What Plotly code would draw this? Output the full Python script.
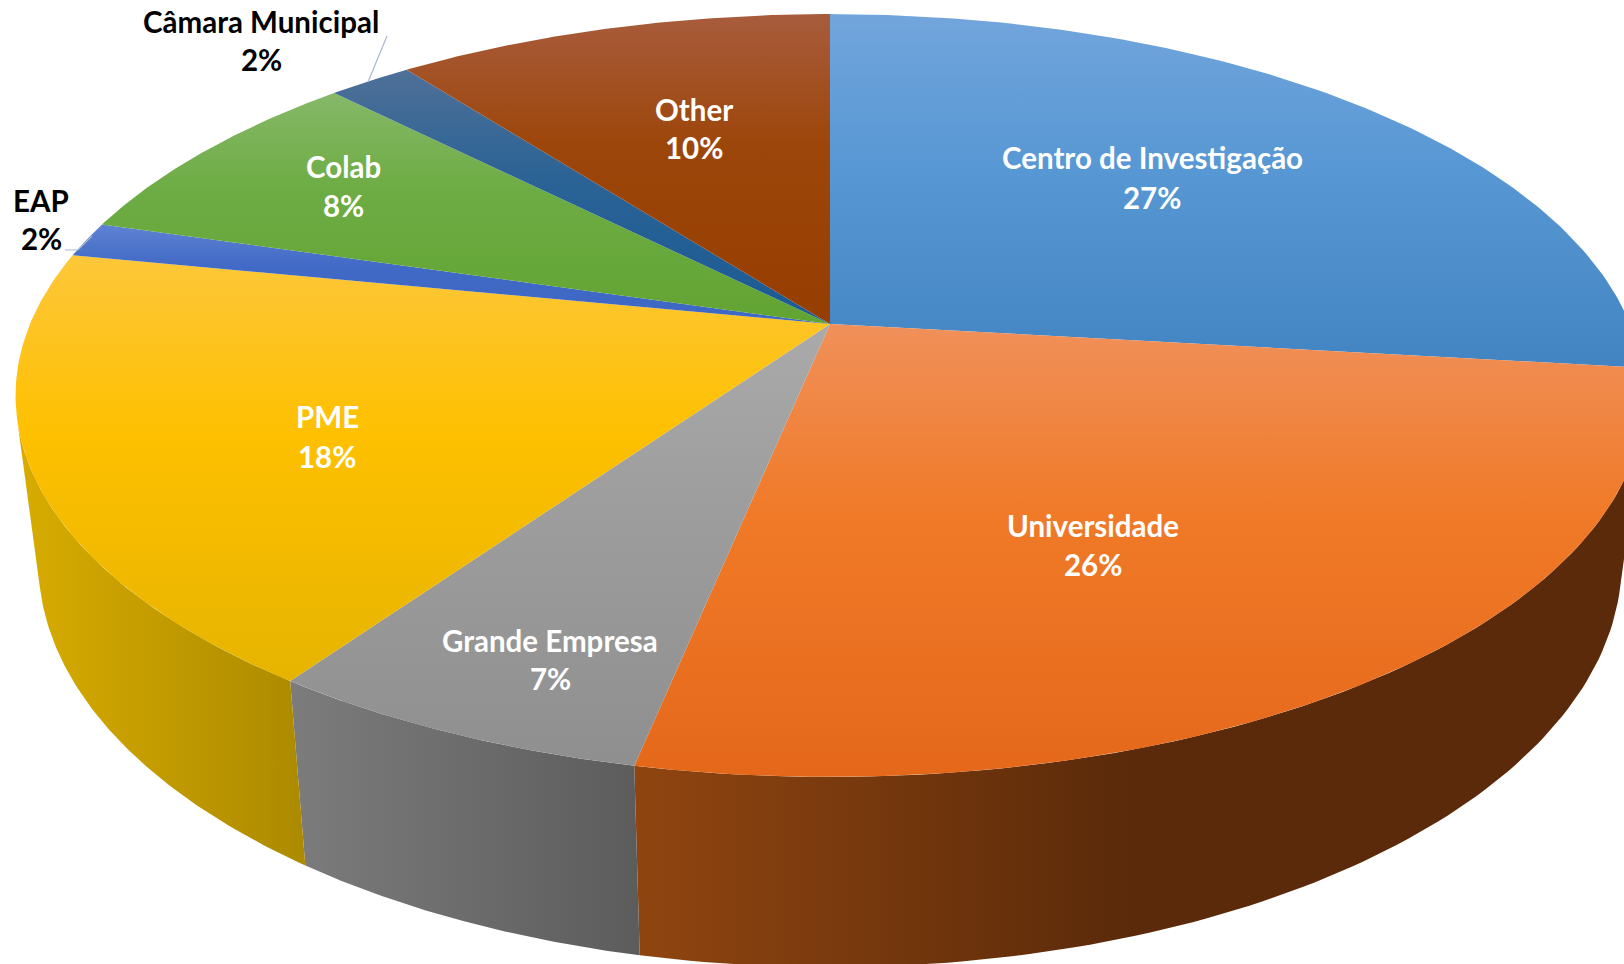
import numpy as np
import plotly.graph_objects as go

# --- data ---
categories = ["Centro de Investigação", "Universidade", "Grande Empresa", "PME",
              "EAP", "Colab", "Câmara Municipal", "Other"]
shares = [26.85, 26.35, 6.47, 18.43, 1.5, 8.0, 2.0, 10.4]
pct_labels = ["27%", "26%", "7%", "18%", "2%", "8%", "2%", "10%"]

# --- style ---
top_colors = [
    ["#72a5dc", "#5898d4", "#4284c2"],
    ["#f0905a", "#f07a28", "#e5681a"],
    ["#aaaaaa", "#9d9d9d", "#8f8f8f"],
    ["#fdc73a", "#fec000", "#e6b400"],
    ["#5f83d2", "#4169c6", "#3d68c4"],
    ["#86b868", "#6dac44", "#62a432"],
    ["#4f7098", "#2b6395", "#1a5a94"],
    ["#a85c3c", "#9d460b", "#963e00"],
]
wall_colors = [
    ["#65381a", "#65381a"],
    ["#904510", "#5a2a0a"],
    ["#7c7c7c", "#5c5c5c"],
    ["#d8ac00", "#ac8a00"],
    ["#30508f", "#30508f"],
    ["#4e7d30", "#4e7d30"],
    ["#1f4d78", "#1f4d78"],
    ["#6e3000", "#6e3000"],
]
label_xy = [(1152, 157, 197), (1093, 525, 564), (550, 640, 678), (327, 416, 456),
            (41, 200, 238), (343, 166, 205), (261, 21, 59), (694, 109, 147)]
label_dark = [False, False, False, False, True, False, True, False]
leaders = [([65, 78, 92], [250, 250, 236]), ([387, 368], [36, 82])]

# --- projection of the tilted disc ---
CX, CY, RX, RY, K = 830.0, 324.0, 800.0, 368.0, 0.1875
SHRINK, Y_GAIN, Y_SHIFT = 0.972, 1.0616, 142.4


def rim(a):
    x, z = np.sin(a), np.cos(a)
    w = 1 + K * z
    return CX + RX * x / w, CY - RY * z / w


def lower(x, y):
    return CX + SHRINK * (x - CX), Y_GAIN * y + Y_SHIFT


fracs = np.array(shares) / sum(shares)
edges = np.concatenate([[0], np.cumsum(fracs)]) * 2 * np.pi

# the part of the rim whose wall faces the viewer: between the two tangent points
grid = np.linspace(0, 2 * np.pi, 7201)
gx, gy = rim(grid)
lx_, ly_ = lower(gx, gy)
dx, dy = np.gradient(gx), np.gradient(gy)
side = dx * (ly_ - gy) - dy * (lx_ - gx)
visible = grid[side < 0]
a_right, a_left = visible.min(), visible.max()

fig = go.Figure()
# outer walls first, top faces drawn over them
for i, name in enumerate(categories):
    a0, a1 = max(edges[i], a_right), min(edges[i + 1], a_left)
    if a1 <= a0:
        continue
    a = np.linspace(a0, a1, 90)
    tx, ty = rim(a)
    bx, by = lower(tx, ty)
    px = np.concatenate([tx, bx[::-1]])
    py = np.concatenate([ty, by[::-1]])
    c = wall_colors[i]
    fig.add_trace(go.Scatter(
        x=px, y=py, mode="lines", fill="toself", line=dict(width=0),
        fillgradient=dict(type="horizontal", start=float(px.min()),
                          stop=float(min(px.max(), px.min() + 500)),
                          colorscale=[[0, c[0]], [1, c[1]]]),
        hoverinfo="skip", showlegend=False))

for i, name in enumerate(categories):
    a = np.linspace(edges[i], edges[i + 1], 120)
    tx, ty = rim(a)
    px = np.concatenate([[CX], tx, [CX]])
    py = np.concatenate([[CY], ty, [CY]])
    c = top_colors[i]
    fig.add_trace(go.Scatter(
        x=px, y=py, mode="lines", fill="toself", line=dict(width=0),
        fillgradient=dict(type="vertical", start=float(py.min()), stop=float(py.max()),
                          colorscale=[[0, c[0]], [0.42, c[1]], [1, c[2]]]),
        name=name, hoverinfo="name", showlegend=False))

for lx, ly in leaders:
    fig.add_trace(go.Scatter(x=lx, y=ly, mode="lines", line=dict(color="#a9b8cc", width=1.2),
                             hoverinfo="skip", showlegend=False))

for i, name in enumerate(categories):
    x, y1, y2 = label_xy[i]
    col = "#000000" if label_dark[i] else "#ffffff"
    for txt, y in ((name, y1), (pct_labels[i], y2)):
        fig.add_annotation(x=x, y=y, text=f"<b>{txt}</b>", showarrow=False,
                           font=dict(family="Lato", size=29.5, color=col))

fig.update_layout(
    width=1624, height=964, margin=dict(l=0, r=0, t=0, b=0),
    paper_bgcolor="white", plot_bgcolor="white",
    xaxis=dict(range=[0, 1624], visible=False, fixedrange=True),
    yaxis=dict(range=[964, 0], visible=False, fixedrange=True),
)
fig.write_html("out.html", config=dict(displayModeBar=False),
               post_script="document.body.style.margin='0';document.body.style.overflow='hidden';")
